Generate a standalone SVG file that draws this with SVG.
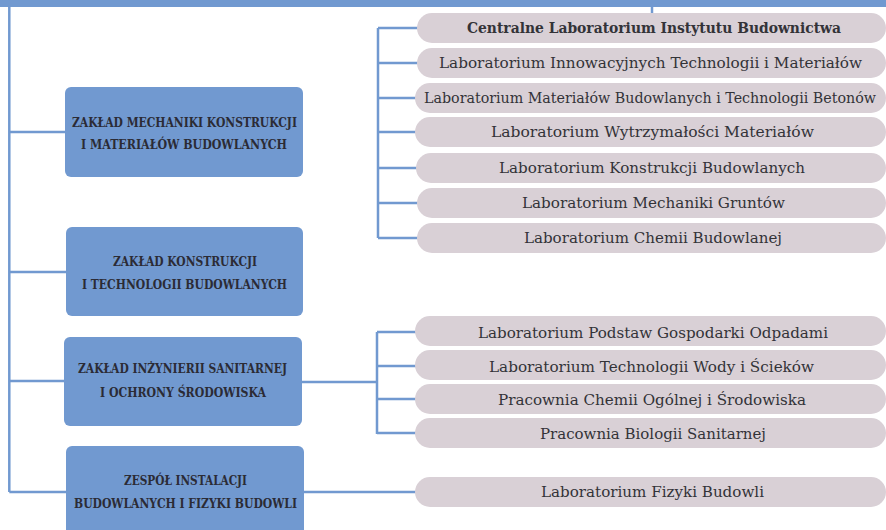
<svg xmlns="http://www.w3.org/2000/svg" width="886" height="530" viewBox="0 0 886 530">
<style>
.ln{fill:none;stroke:#7199d0;stroke-width:2.5}
.box{fill:#7199d0}
.pill{fill:#d9d0d6}
.bt{font-family:"DejaVu Serif","Liberation Serif",serif;font-weight:bold;font-size:12.5px;fill:#2b2b35;text-anchor:middle}
.pt{font-family:"DejaVu Serif","Liberation Serif",serif;font-size:15px;fill:#333338;text-anchor:middle}
.pt.b{font-weight:bold;font-size:14.5px}
.pt.s{font-size:14px}
</style>
<rect x="0" y="0" width="886" height="7" fill="#7199d0"/>
<g id="connectors">
<path class="ln" d="M9.3,6 V492 M9.3,132 H66 M9.3,272 H67 M9.3,381 H65 M9.3,492 H67"/>
<path class="ln" d="M652,6 V14"/>
<path class="ln" d="M378,28 V238 M378,28 H418 M378,63 H418 M378,98 H417 M378,132 H417 M378,168 H418 M378,203 H418 M378,238 H418"/>
<path class="ln" d="M302,382 H377 M377,332 V434 M377,332 H418 M377,366 H418 M377,399 H418 M377,433 H418"/>
<path class="ln" d="M303,492 H418"/>
</g>
<g id="zaklad-mechaniki">
<rect class="box" x="65" y="87" width="238" height="90" rx="6"/>
<text class="bt" x="184.5" y="127" textLength="225" lengthAdjust="spacingAndGlyphs">ZAKŁAD MECHANIKI KONSTRUKCJI</text>
<text class="bt" x="184" y="149" textLength="206" lengthAdjust="spacingAndGlyphs">I MATERIAŁÓW BUDOWLANYCH</text>
</g>
<g id="zaklad-konstrukcji">
<rect class="box" x="66" y="227" width="237" height="89" rx="6"/>
<text class="bt" x="185" y="266" textLength="144" lengthAdjust="spacingAndGlyphs">ZAKŁAD KONSTRUKCJI</text>
<text class="bt" x="184.5" y="289" textLength="205" lengthAdjust="spacingAndGlyphs">I TECHNOLOGII BUDOWLANYCH</text>
</g>
<g id="zaklad-inzynierii">
<rect class="box" x="64" y="337" width="238" height="89" rx="6"/>
<text class="bt" x="182.5" y="373" textLength="209" lengthAdjust="spacingAndGlyphs">ZAKŁAD INŻYNIERII SANITARNEJ</text>
<text class="bt" x="183" y="397" textLength="166" lengthAdjust="spacingAndGlyphs">I OCHRONY ŚRODOWISKA</text>
</g>
<g id="zespol-instalacji">
<rect class="box" x="66" y="446" width="238" height="100" rx="6"/>
<text class="bt" x="185.5" y="485" textLength="123" lengthAdjust="spacingAndGlyphs">ZESPÓŁ INSTALACJI</text>
<text class="bt" x="185.5" y="508" textLength="223" lengthAdjust="spacingAndGlyphs">BUDOWLANYCH I FIZYKI BUDOWLI</text>
</g>
<g id="lab-centralne">
<rect class="pill" x="417" y="13" width="469" height="30" rx="15"/>
<text class="pt b" x="654" y="33" textLength="374" lengthAdjust="spacingAndGlyphs">Centralne Laboratorium Instytutu Budownictwa</text>
</g>
<g id="lab-innowacyjnych">
<rect class="pill" x="417" y="48" width="469" height="30" rx="15"/>
<text class="pt" x="650.5" y="68" textLength="423" lengthAdjust="spacingAndGlyphs">Laboratorium Innowacyjnych Technologii i Materiałów</text>
</g>
<g id="lab-materialow">
<rect class="pill" x="415" y="83" width="471" height="30" rx="15"/>
<text class="pt s" x="650" y="103" textLength="452" lengthAdjust="spacingAndGlyphs">Laboratorium Materiałów Budowlanych i Technologii Betonów</text>
</g>
<g id="lab-wytrzymalosci">
<rect class="pill" x="415" y="117" width="471" height="30" rx="15"/>
<text class="pt" x="652.5" y="137" textLength="323" lengthAdjust="spacingAndGlyphs">Laboratorium Wytrzymałości Materiałów</text>
</g>
<g id="lab-konstrukcji">
<rect class="pill" x="416" y="153" width="470" height="30" rx="15"/>
<text class="pt" x="652" y="173" textLength="306" lengthAdjust="spacingAndGlyphs">Laboratorium Konstrukcji Budowlanych</text>
</g>
<g id="lab-gruntow">
<rect class="pill" x="417" y="188" width="469" height="30" rx="15"/>
<text class="pt" x="653.5" y="208" textLength="263" lengthAdjust="spacingAndGlyphs">Laboratorium Mechaniki Gruntów</text>
</g>
<g id="lab-chemii">
<rect class="pill" x="417" y="223" width="469" height="30" rx="15"/>
<text class="pt" x="653" y="243" textLength="258" lengthAdjust="spacingAndGlyphs">Laboratorium Chemii Budowlanej</text>
</g>
<g id="lab-odpadami">
<rect class="pill" x="415" y="316" width="471" height="30" rx="15"/>
<text class="pt" x="653" y="338" textLength="350" lengthAdjust="spacingAndGlyphs">Laboratorium Podstaw Gospodarki Odpadami</text>
</g>
<g id="lab-wody">
<rect class="pill" x="415" y="350" width="471" height="30" rx="15"/>
<text class="pt" x="651.5" y="372" textLength="325" lengthAdjust="spacingAndGlyphs">Laboratorium Technologii Wody i Ścieków</text>
</g>
<g id="prac-chemii">
<rect class="pill" x="415" y="384" width="471" height="30" rx="15"/>
<text class="pt" x="652" y="405" textLength="308" lengthAdjust="spacingAndGlyphs">Pracownia Chemii Ogólnej i Środowiska</text>
</g>
<g id="prac-biologii">
<rect class="pill" x="415" y="418" width="471" height="30" rx="15"/>
<text class="pt" x="653" y="439" textLength="226" lengthAdjust="spacingAndGlyphs">Pracownia Biologii Sanitarnej</text>
</g>
<g id="lab-fizyki">
<rect class="pill" x="415" y="477" width="471" height="30" rx="15"/>
<text class="pt" x="652.5" y="497" textLength="223" lengthAdjust="spacingAndGlyphs">Laboratorium Fizyki Budowli</text>
</g>
</svg>
